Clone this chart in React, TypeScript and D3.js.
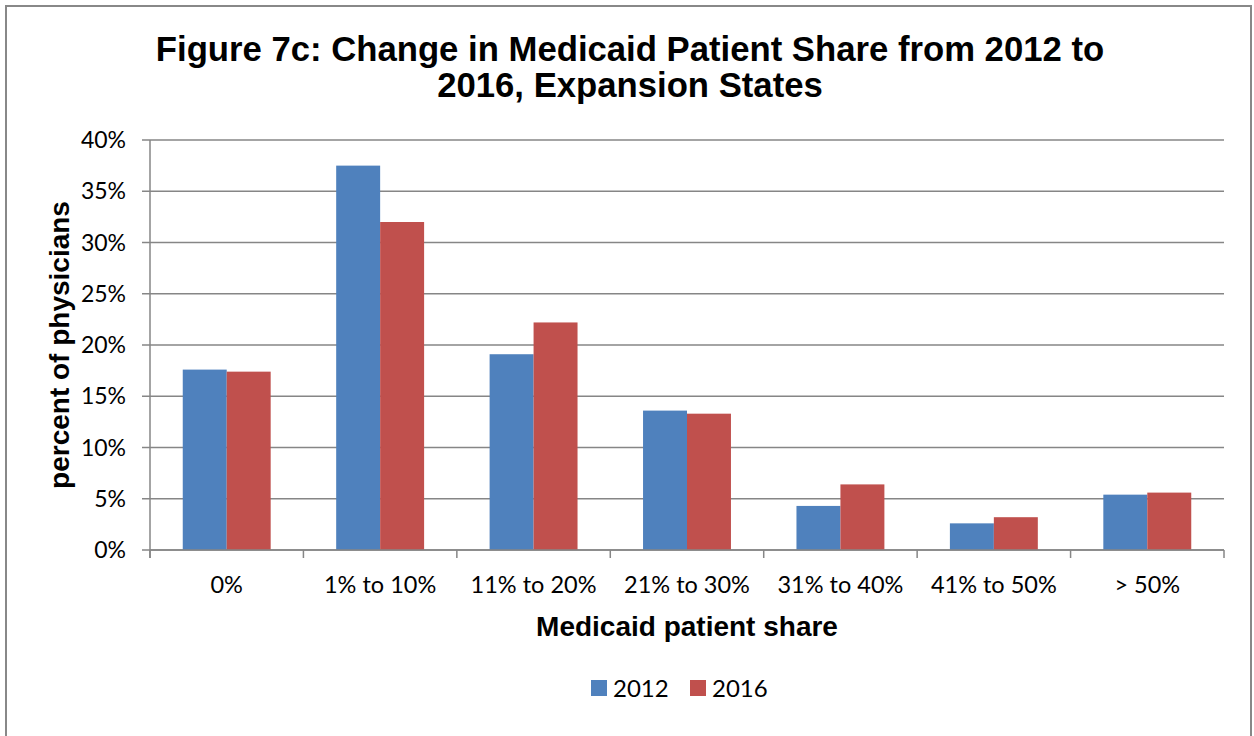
import React, { useEffect, useRef } from 'react'
import * as d3 from 'd3'

const categories = ['0%', '1% to 10%', '11% to 20%', '21% to 30%', '31% to 40%', '41% to 50%', '> 50%']
const series = ['2012', '2016']
const values2012 = [17.6, 37.5, 19.1, 13.6, 4.3, 2.6, 5.4]
const values2016 = [17.4, 32.0, 22.2, 13.3, 6.4, 3.2, 5.6]
const yTicks = [0, 5, 10, 15, 20, 25, 30, 35, 40]
const colors = ['#4F81BD', '#C0504D']

const W = 1254
const H = 736
const plot = { left: 150, top: 140, right: 1224, bottom: 550 }
const bodyFont = 'Lato, "Open Sans", sans-serif'
const boldFont = '"Liberation Sans", Arial, sans-serif'

export default function App() {
  const ref = useRef<SVGSVGElement>(null)

  useEffect(() => {
    const svg = d3.select(ref.current)
    svg.selectAll('*').remove()

    const x = d3.scaleBand().domain(categories).range([plot.left, plot.right])
    const inner = d3.scaleBand().domain(series).range([0, x.bandwidth()]).paddingOuter(0.745).paddingInner(0)
    const y = d3.scaleLinear().domain([0, 40]).range([plot.bottom, plot.top])

    // chart border
    svg.append('rect')
      .attr('x', 6).attr('y', 6).attr('width', W - 9).attr('height', H + 10)
      .attr('fill', 'white').attr('stroke', '#888').attr('stroke-width', 2)

    // gridlines + y ticks
    const grid = svg.append('g')
    grid.selectAll('line.grid').data(yTicks).enter().append('line')
      .attr('x1', plot.left - 8).attr('x2', plot.right)
      .attr('y1', d => y(d)).attr('y2', d => y(d))
      .attr('stroke', '#868686').attr('stroke-width', 1.5)

    grid.selectAll('text').data(yTicks).enter().append('text')
      .attr('x', plot.left - 24).attr('y', d => y(d) + 8)
      .attr('text-anchor', 'end')
      .attr('font-family', bodyFont).attr('font-size', 23)
      .text(d => d + '%')

    // y axis line
    svg.append('line')
      .attr('x1', plot.left).attr('x2', plot.left).attr('y1', plot.top).attr('y2', plot.bottom + 8)
      .attr('stroke', '#868686').attr('stroke-width', 1.5)

    // bars
    const data = [values2012, values2016]
    categories.forEach((c, i) => {
      series.forEach((s, j) => {
        svg.append('rect')
          .attr('x', x(c)! + inner(s)!)
          .attr('y', y(data[j][i]))
          .attr('width', inner.bandwidth())
          .attr('height', plot.bottom - y(data[j][i]))
          .attr('fill', colors[j])
      })
    })

    // x axis ticks at category boundaries
    const bounds = categories.map(c => x(c)!).concat([plot.right])
    svg.selectAll('line.xt').data(bounds).enter().append('line')
      .attr('x1', d => d).attr('x2', d => d).attr('y1', plot.bottom).attr('y2', plot.bottom + 8)
      .attr('stroke', '#868686').attr('stroke-width', 1.5)
    svg.append('line')
      .attr('x1', plot.left).attr('x2', plot.right).attr('y1', plot.bottom).attr('y2', plot.bottom)
      .attr('stroke', '#868686').attr('stroke-width', 1.5)

    svg.selectAll('text.xl').data(categories).enter().append('text')
      .attr('x', d => x(d)! + x.bandwidth() / 2).attr('y', 593)
      .attr('text-anchor', 'middle')
      .attr('font-family', bodyFont).attr('font-size', 23.5)
      .text(d => d)

    // titles
    const title = svg.append('text')
      .attr('text-anchor', 'middle')
      .attr('font-family', boldFont).attr('font-weight', 'bold').attr('font-size', 34.7)
    title.append('tspan').attr('x', 630).attr('y', 61).text('Figure 7c: Change in Medicaid Patient Share from 2012 to')
    title.append('tspan').attr('x', 630).attr('y', 97).text('2016, Expansion States')

    svg.append('text')
      .attr('transform', `translate(69, ${(plot.top + plot.bottom) / 2}) rotate(-90)`)
      .attr('text-anchor', 'middle')
      .attr('font-family', boldFont).attr('font-weight', 'bold').attr('font-size', 28)
      .text('percent of physicians')

    svg.append('text')
      .attr('x', (plot.left + plot.right) / 2).attr('y', 636)
      .attr('text-anchor', 'middle')
      .attr('font-family', boldFont).attr('font-weight', 'bold').attr('font-size', 28)
      .text('Medicaid patient share')

    // legend
    const legend = svg.append('g')
    const legendX = [591, 690]
    series.forEach((s, j) => {
      legend.append('rect')
        .attr('x', legendX[j]).attr('y', 680).attr('width', 16).attr('height', 16)
        .attr('fill', colors[j])
      legend.append('text')
        .attr('x', legendX[j] + 22).attr('y', 697)
        .attr('font-family', bodyFont).attr('font-size', 24)
        .text(s)
    })
  }, [])

  return (
    <svg ref={ref} width={W} height={H} style={{ position: 'absolute', left: 0, top: 0, display: 'block' }} />
  )
}
